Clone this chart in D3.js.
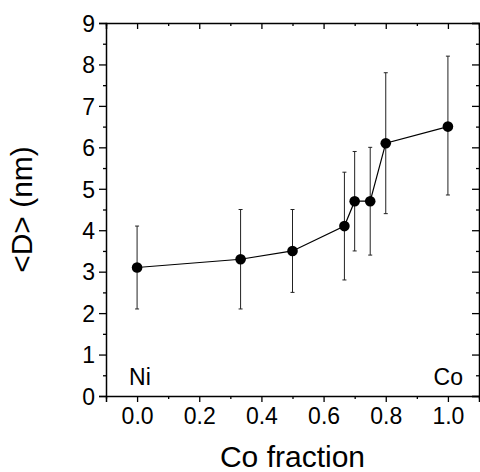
<!DOCTYPE html>
<html>
<head>
<meta charset="utf-8">
<script src="https://cdn.jsdelivr.net/npm/d3@7"></script>
<style>
  html, body { margin: 0; padding: 0; background: #fff; }
  svg { display: block; }
  text { font-family: "Liberation Sans", Arial, Helvetica, sans-serif; fill: #000; }
</style>
</head>
<body>
<svg id="chart" width="480" height="472"></svg>
<script>
// Data
const coFraction = [0.0, 0.333, 0.5, 0.667, 0.7, 0.75, 0.8, 1.0];
const meanD      = [3.1, 3.3, 3.5, 4.1, 4.7, 4.7, 6.1, 6.5];
const errLow     = [2.1, 2.1, 2.5, 2.8, 3.5, 3.4, 4.4, 4.85];
const errHigh    = [4.1, 4.5, 4.5, 5.4, 5.9, 6.0, 7.8, 8.2];
const xTicks = [0.0, 0.2, 0.4, 0.6, 0.8, 1.0];
const xMinorTicks = [-0.1, 0.1, 0.3, 0.5, 0.7, 0.9, 1.1];
const yTicks = [0, 1, 2, 3, 4, 5, 6, 7, 8, 9];
const yMinorTicks = [0.5, 1.5, 2.5, 3.5, 4.5, 5.5, 6.5, 7.5, 8.5];
const xLabel = "Co fraction";
const yLabel = "<D> (nm)";
const leftNote = "Ni";
const rightNote = "Co";

const svg = d3.select("#chart");
const L = 106, R = 479, T = 23, B = 396;

const x = d3.scaleLinear().domain([-0.1, 1.1]).range([L, R]);
const y = d3.scaleLinear().domain([0, 9]).range([B, T]);

const data = coFraction.map((c, i) => ({ x: c, y: meanD[i], lo: errLow[i], hi: errHigh[i] }));

function styleAxis(g) {
  g.select(".domain").attr("stroke", "#000").attr("stroke-width", 1.5);
  g.selectAll(".tick line").attr("stroke", "#000").attr("stroke-width", 1.3);
}

// Bottom axis (major)
const gB = svg.append("g").attr("transform", `translate(0,${B})`)
  .call(d3.axisBottom(x).tickValues(xTicks).tickSize(6).tickFormat(d3.format(".1f")));
styleAxis(gB);
gB.selectAll("text").attr("font-size", 23).attr("dy", "0.71em").attr("y", 12);
// bottom minor
const gBm = svg.append("g").attr("transform", `translate(0,${B})`)
  .call(d3.axisBottom(x).tickValues(xMinorTicks).tickSize(3).tickFormat(""));
styleAxis(gBm); gBm.select(".domain").remove();

// Top axis (inward)
const gT = svg.append("g").attr("transform", `translate(0,${T})`)
  .call(d3.axisTop(x).tickValues(xTicks).tickSize(-6).tickFormat(""));
styleAxis(gT);
const gTm = svg.append("g").attr("transform", `translate(0,${T})`)
  .call(d3.axisTop(x).tickValues(xMinorTicks).tickSize(-3).tickFormat(""));
styleAxis(gTm); gTm.select(".domain").remove();

// Left axis
const gL = svg.append("g").attr("transform", `translate(${L},0)`)
  .call(d3.axisLeft(y).tickValues(yTicks).tickSize(7).tickPadding(4).tickFormat(d3.format("d")));
styleAxis(gL);
gL.selectAll("text").attr("font-size", 23).attr("dy", "0.36em");
const gLm = svg.append("g").attr("transform", `translate(${L},0)`)
  .call(d3.axisLeft(y).tickValues(yMinorTicks).tickSize(3).tickFormat(""));
styleAxis(gLm); gLm.select(".domain").remove();

// Right axis (inward)
const gR = svg.append("g").attr("transform", `translate(${R},0)`)
  .call(d3.axisRight(y).tickValues(yTicks).tickSize(-7).tickFormat(""));
styleAxis(gR);
const gRm = svg.append("g").attr("transform", `translate(${R},0)`)
  .call(d3.axisRight(y).tickValues(yMinorTicks).tickSize(-3).tickFormat(""));
styleAxis(gRm); gRm.select(".domain").remove();

// Error bars
const eb = svg.append("g").attr("stroke", "#222").attr("stroke-width", 1);
eb.selectAll("line.v").data(data).enter().append("line")
  .attr("x1", d => x(d.x)).attr("x2", d => x(d.x))
  .attr("y1", d => y(d.lo)).attr("y2", d => y(d.hi));
eb.selectAll("line.capHi").data(data).enter().append("line")
  .attr("x1", d => x(d.x) - 2).attr("x2", d => x(d.x) + 2)
  .attr("y1", d => y(d.hi)).attr("y2", d => y(d.hi));
eb.selectAll("line.capLo").data(data).enter().append("line")
  .attr("x1", d => x(d.x) - 2).attr("x2", d => x(d.x) + 2)
  .attr("y1", d => y(d.lo)).attr("y2", d => y(d.lo));

// Connecting line
svg.append("path").datum(data)
  .attr("fill", "none").attr("stroke", "#000").attr("stroke-width", 1.2)
  .attr("d", d3.line().x(d => x(d.x)).y(d => y(d.y)));

// Markers
svg.append("g").selectAll("circle").data(data).enter().append("circle")
  .attr("cx", d => x(d.x)).attr("cy", d => y(d.y)).attr("r", 5.3).attr("fill", "#000");

// Notes
svg.append("text").attr("x", x(0) - 8).attr("y", 385).attr("font-size", 23).text(leftNote);
svg.append("text").attr("x", 463).attr("y", 385).attr("font-size", 23).attr("text-anchor", "end").text(rightNote);

// Axis labels
svg.append("text").attr("x", (L + R) / 2).attr("y", 467).attr("font-size", 30)
  .attr("text-anchor", "middle").text(xLabel);
svg.append("text").attr("transform", `translate(32,${(T + B) / 2}) rotate(-90)`)
  .attr("font-size", 30).attr("text-anchor", "middle").text(yLabel);
</script>
</body>
</html>
